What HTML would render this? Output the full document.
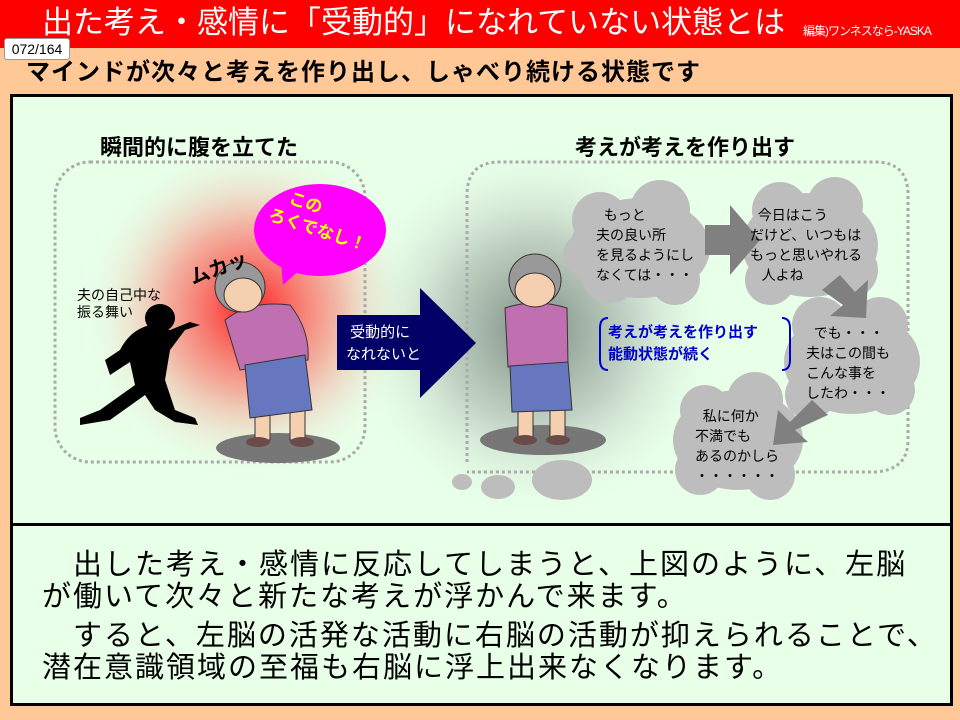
<!DOCTYPE html>
<html><head><meta charset="utf-8"><style>
*{margin:0;padding:0;box-sizing:border-box}
body{width:960px;height:720px;background:#ffc896;position:relative;overflow:hidden;font-family:"Liberation Sans","Noto Sans CJK JP",sans-serif}
.a{position:absolute;white-space:nowrap}
</style></head><body>
<div class="a" style="left:0;top:0;width:960px;height:48px;background:#ff0000"></div>
<div class="a" style="left:42px;top:5px;color:#fff;font-size:31px;line-height:36px">出た考え・感情に「受動的」になれていない状態とは</div>
<div class="a" style="left:803px;top:22px;color:#fff;font-size:12px;letter-spacing:-1px">編集)ワンネスなら-YASKA</div>
<div class="a" style="left:4px;top:38px;width:66px;height:22px;background:#fff;border:1px solid #999;border-radius:3px;font-size:14px;line-height:20px;text-align:center">072/164</div>
<div class="a" style="left:26px;top:58px;font-size:24px;font-weight:bold;line-height:30px;color:#000;letter-spacing:1px">マインドが次々と考えを作り出し、しゃべり続ける状態です</div>
<div class="a" style="left:10px;top:94px;width:943px;height:612px;background:#e8ffe8;border:3px solid #000"></div>
<div class="a" style="left:10px;top:523px;width:943px;height:3px;background:#000"></div>
<svg class="a" style="left:0;top:0" width="960" height="720">
<defs>
<radialGradient id="rg" cx="250" cy="310" r="170" gradientUnits="userSpaceOnUse"><stop offset="0" stop-color="#ff2020"/><stop offset="0.5" stop-color="#f5a090" stop-opacity="0.8"/><stop offset="1" stop-color="#e8ffe8" stop-opacity="0"/></radialGradient>
<radialGradient id="gg" cx="535" cy="330" r="190" gradientUnits="userSpaceOnUse"><stop offset="0" stop-color="#7a8a80"/><stop offset="0.5" stop-color="#b8c8bc" stop-opacity="0.8"/><stop offset="1" stop-color="#e8ffe8" stop-opacity="0"/></radialGradient>
</defs>
<rect x="60" y="120" width="400" height="400" fill="url(#rg)"/>
<rect x="345" y="120" width="420" height="400" fill="url(#gg)"/>
<rect x="55" y="162" width="310" height="300" rx="35" fill="none" stroke="#aaa" stroke-width="3" stroke-dasharray="3,3"/>
<path d="M467 462 V195 Q467 162 500 162 H875 Q908 162 908 195 V440 Q908 470 875 472 H467" fill="none" stroke="#aaa" stroke-width="3" stroke-dasharray="3,3"/>
<polygon points="337,315 420,315 420,288 476,343 420,398 420,370 337,370" fill="#000066"/>
<ellipse cx="320" cy="230" rx="66" ry="46" fill="#ff00ff"/>
<polygon points="280,250 283,285 305,265" fill="#ff00ff"/>
<g fill="#000">
<ellipse cx="160" cy="318" rx="15" ry="14"/>
<path d="M150 325 Q130 330 120 350 L105 360 L110 375 L130 362 L135 385 L100 410 L80 418 L80 425 L110 420 L145 395 L155 410 L175 422 L198 425 L195 418 L175 410 L165 380 L170 350 L185 330 L200 325 L190 322 L170 330 Z"/>
</g>
<ellipse cx="278" cy="448" rx="62" ry="15" fill="#777"/>
<rect x="255" y="405" width="15" height="35" fill="#f5d0b0" stroke="#333"/>
<rect x="290" y="405" width="15" height="35" fill="#f5d0b0" stroke="#333"/>
<ellipse cx="258" cy="442" rx="12" ry="5" fill="#6b4a4a"/>
<ellipse cx="302" cy="442" rx="12" ry="5" fill="#6b4a4a"/>
<path d="M225 320 Q250 300 290 305 Q310 330 308 360 L240 370 Z" fill="#c070b0" stroke="#333"/>
<path d="M245 365 L305 355 L312 410 L250 418 Z" fill="#6677c0" stroke="#333"/>
<circle cx="240" cy="287" r="25" fill="#999" stroke="#333"/>
<ellipse cx="243" cy="295" rx="19" ry="17" fill="#f5d0b0" stroke="#333"/>
<ellipse cx="543" cy="440" rx="63" ry="15" fill="#777"/>
<rect x="518" y="408" width="15" height="30" fill="#f5d0b0" stroke="#333"/>
<rect x="550" y="408" width="15" height="30" fill="#f5d0b0" stroke="#333"/>
<ellipse cx="525" cy="440" rx="12" ry="5" fill="#6b4a4a"/>
<ellipse cx="558" cy="440" rx="12" ry="5" fill="#6b4a4a"/>
<path d="M505 308 Q535 298 567 308 L568 365 L508 367 Z" fill="#c070b0" stroke="#333"/>
<path d="M510 366 L568 362 L572 410 L512 412 Z" fill="#6677c0" stroke="#333"/>
<circle cx="535" cy="280" r="26" fill="#999" stroke="#333"/>
<ellipse cx="535" cy="290" rx="20" ry="17" fill="#f5d0b0" stroke="#333"/>
<g fill="#bdbdbd">
<ellipse cx="640" cy="248" rx="70" ry="50"/><circle cx="600" cy="220" r="28"/><circle cx="660" cy="210" r="30"/><circle cx="610" cy="275" r="28"/><circle cx="675" cy="280" r="25"/><circle cx="585" cy="255" r="22"/>
<ellipse cx="810" cy="245" rx="68" ry="52"/><circle cx="780" cy="210" r="28"/><circle cx="835" cy="205" r="28"/><circle cx="770" cy="280" r="25"/><circle cx="850" cy="270" r="28"/>
<ellipse cx="852" cy="362" rx="68" ry="52"/><circle cx="820" cy="325" r="28"/><circle cx="880" cy="325" r="28"/><circle cx="810" cy="395" r="25"/><circle cx="890" cy="390" r="25"/>
<ellipse cx="738" cy="440" rx="65" ry="50"/><circle cx="705" cy="410" r="25"/><circle cx="755" cy="400" r="28"/><circle cx="700" cy="470" r="25"/><circle cx="770" cy="475" r="25"/>
<ellipse cx="462" cy="482" rx="10" ry="8"/><ellipse cx="498" cy="487" rx="17" ry="12"/><ellipse cx="562" cy="480" rx="30" ry="20"/>
</g>
<g fill="#808080">
<polygon points="705,225 730,225 730,205 760,240 730,275 730,255 705,255"/>
<polygon points="822,290 840,275 855,292 868,280 866,318 830,316 843,305"/>
<polygon points="828,415 812,400 790,422 778,410 773,445 808,442 795,430"/>
</g>
<path d="M608 318 Q600 318 600 328 V360 Q600 370 608 370" fill="none" stroke="#0000cc" stroke-width="2"/>
<path d="M782 318 Q790 318 790 328 V360 Q790 370 782 370" fill="none" stroke="#0000cc" stroke-width="2"/>
</svg>
<div class="a" style="left:100px;top:130px;font-size:22px;font-weight:bold">瞬間的に腹を立てた</div>
<div class="a" style="left:575px;top:130px;font-size:22px;font-weight:bold">考えが考えを作り出す</div>
<div class="a" style="left:77px;top:287px;font-size:14px;line-height:17px">夫の自己中な<br>振る舞い</div>
<div class="a" style="left:188px;top:252px;font-size:20px;font-weight:bold;transform:rotate(-20deg)">ムカッ</div>
<div class="a" style="left:270px;top:198px;font-size:17px;font-weight:bold;color:#ffff00;line-height:22px;transform:rotate(18deg)">&nbsp;&nbsp;&nbsp;この<br>ろくでなし！</div>
<div class="a" style="left:346px;top:322px;color:#fff;font-size:15px;line-height:22px">&nbsp;受動的に<br>なれないと</div>
<div class="a" style="left:596px;top:205px;font-size:14px;line-height:20px">&nbsp;&nbsp;もっと<br>夫の良い所<br>を見るようにし<br>なくては・・・</div>
<div class="a" style="left:750px;top:205px;font-size:14px;line-height:20px">&nbsp;&nbsp;今日はこう<br>だけど、いつもは<br>もっと思いやれる<br>&nbsp;&nbsp;&nbsp;人よね</div>
<div class="a" style="left:806px;top:323px;font-size:14px;line-height:20px">&nbsp;&nbsp;でも・・・<br>夫はこの間も<br>こんな事を<br>したわ・・・</div>
<div class="a" style="left:695px;top:406px;font-size:14px;line-height:20px">&nbsp;&nbsp;私に何か<br>不満でも<br>あるのかしら<br>・・・・・・</div>
<div class="a" style="left:608px;top:322px;font-size:15px;font-weight:bold;color:#0000cc;line-height:22px">考えが考えを作り出す<br>能動状態が続く</div>
<div class="a" style="left:42px;top:549px;font-size:29px;line-height:32px;letter-spacing:2px">　出した考え・感情に反応してしまうと、上図のように、左脳<br>が働いて次々と新たな考えが浮かんで来ます。</div>
<div class="a" style="left:42px;top:620px;font-size:29px;line-height:32px;letter-spacing:2px">　すると、左脳の活発な活動に右脳の活動が抑えられることで、<br>潜在意識領域の至福も右脳に浮上出来なくなります。</div>
</body></html>
